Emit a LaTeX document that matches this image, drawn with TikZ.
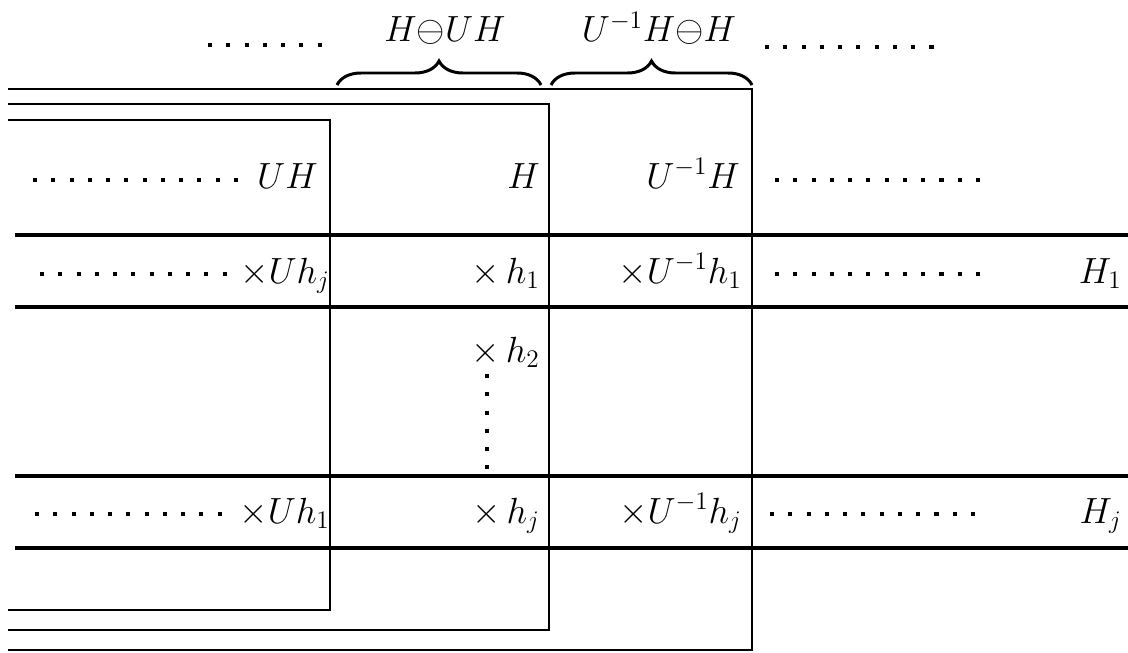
\documentclass[tikz,border=0pt]{standalone}
\usetikzlibrary{decorations.pathreplacing}
\begin{document}
\begin{tikzpicture}[x=0.02cm,y=-0.02cm,
  box/.style={line width=1.5pt},
  rowline/.style={line width=2.6pt},
  dotline/.style={line width=2.3pt,dash pattern=on 2.3pt off 8.1pt},
  lab/.style={inner sep=0pt,anchor=base east,font=\fontsize{21}{25}\selectfont},
  toplab/.style={inner sep=0pt,anchor=base,font=\fontsize{21}{25}\selectfont},
  brc/.style={line width=1.7pt,decorate,decoration={brace,amplitude=0.48cm}}]
\useasboundingbox (0,0) rectangle (1128,652);
% nested boxes
\draw[box] (8,89) -- (752,89) -- (752,650) -- (8,650);
\draw[box] (8,104) -- (549,104) -- (549,630) -- (8,630);
\draw[box] (8,120) -- (330,120) -- (330,610) -- (8,610);
% row lines
\draw[rowline] (15,235) -- (1128,235);
\draw[rowline] (15,307) -- (1128,307);
\draw[rowline] (15,476) -- (1128,476);
\draw[rowline] (15,548) -- (1128,548);
% braces
\draw[brc] (337,85) -- (541,85);
\draw[brc] (551,85) -- (752,85);
\node[toplab] (t1) at (445,42) {$H\mathord{\ominus}UH$};
\node[toplab] (t2) at (659,42) {$U^{-1}H\mathord{\ominus}H$};
% top dots
\draw[dotline] (208,45) -- (322,45);
\draw[dotline] (765,47) -- (934,47);
% header row
\node[lab] (uh) at (318,188) {$UH$};
\node[lab] (h) at (540,188) {$H$};
\node[lab] (uih) at (740,188) {$U^{-1}H$};
\draw[dotline] (33,180) -- (239,180);
\draw[dotline] (775,180) -- (982,180);
% row 1
\node[lab] (uhj) at (330,283) {${\times}Uh_j$};
\node[lab] (h1) at (540,283) {${\times}\,h_1$};
\node[lab] (uih1) at (742,283) {${\times}U^{-1}h_1$};
\node[lab] (H1) at (1122,283) {$H_1$};
\draw[dotline] (40,274) -- (229,274);
\draw[dotline] (775,274) -- (982,274);
% h2 and vertical dots
\node[lab] (h2) at (540,362) {${\times}\,h_2$};
\draw[dotline] (487,374) -- (487,469);
% row j
\node[lab] (uh1) at (330,523) {${\times}Uh_1$};
\node[lab] (hj) at (540,523) {${\times}\,h_j$};
\node[lab] (uihj) at (742,523) {${\times}U^{-1}h_j$};
\node[lab] (Hj) at (1122,523) {$H_j$};
\draw[dotline] (35,514) -- (222,514);
\draw[dotline] (770,514) -- (979,514);
\end{tikzpicture}
\end{document}
